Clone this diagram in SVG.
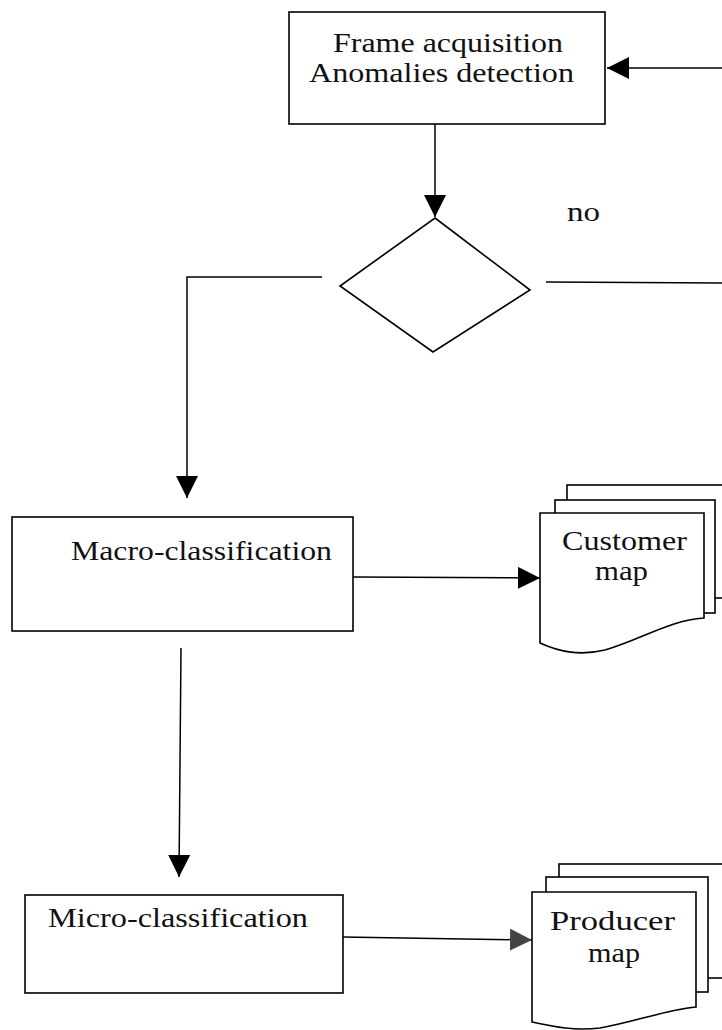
<svg xmlns="http://www.w3.org/2000/svg" width="722" height="1030" viewBox="0 0 722 1030">
<defs>
<style>
.box{fill:#fff;stroke:#000;stroke-width:1.6}
.doc{fill:#fff;stroke:#000;stroke-width:1.6;stroke-linejoin:miter}
.ln{fill:none;stroke:#000;stroke-width:1.5}
.t{font-family:"Liberation Serif","Times New Roman",serif;font-size:28px;fill:#111}
</style>
<marker id="ah" markerUnits="userSpaceOnUse" markerWidth="22" markerHeight="22" viewBox="0 0 20 20" refX="20" refY="10" orient="auto">
<path d="M0,0 L20,10 L0,20 Z" fill="#000"/>
</marker>
<marker id="ahg" markerUnits="userSpaceOnUse" markerWidth="22" markerHeight="22" viewBox="0 0 20 20" refX="20" refY="10" orient="auto">
<path d="M0,0 L20,10 L0,20 Z" fill="#444"/>
</marker>
</defs>
<rect width="722" height="1030" fill="#fff"/>

<g id="connectors">
<line class="ln" x1="722" y1="68" x2="607" y2="68" marker-end="url(#ah)"/>
<line class="ln" x1="435" y1="124" x2="435" y2="217" marker-end="url(#ah)"/>
<polyline class="ln" points="322,277 187,277 187,498" marker-end="url(#ah)"/>
<line class="ln" x1="546" y1="282" x2="722" y2="283"/>
<line class="ln" x1="353" y1="577" x2="540" y2="578" marker-end="url(#ah)"/>
<line class="ln" x1="181" y1="648" x2="179" y2="877" marker-end="url(#ah)"/>
<line class="ln" x1="343" y1="937" x2="532" y2="940" marker-end="url(#ahg)"/>
</g>

<g id="frame-acquisition">
<rect class="box" x="289" y="12" width="316" height="112"/>
<text class="t" x="448" y="52" text-anchor="middle" textLength="230" lengthAdjust="spacingAndGlyphs">Frame acquisition</text>
<text class="t" x="441.5" y="82" text-anchor="middle" textLength="265" lengthAdjust="spacingAndGlyphs">Anomalies detection</text>
</g>

<g id="decision">
<polygon class="box" points="435,218 530,290 433,352 340,286"/>
<text class="t" x="567" y="221" textLength="33" lengthAdjust="spacingAndGlyphs">no</text>
</g>

<g id="macro-classification">
<rect class="box" x="12" y="517" width="341" height="114"/>
<text class="t" x="71" y="560" textLength="261" lengthAdjust="spacingAndGlyphs">Macro-classification</text>
</g>

<g id="customer-map">
<rect class="doc" x="567" y="485" width="165" height="113"/>
<rect class="doc" x="555" y="500" width="160" height="113"/>
<path class="doc" d="M540,513 H704 V618 C670,620 640,640 605,650 C580,656 560,652 540,643 Z"/>
<text class="t" x="624.5" y="550" text-anchor="middle" textLength="125" lengthAdjust="spacingAndGlyphs">Customer</text>
<text class="t" x="621.5" y="580" text-anchor="middle" textLength="53" lengthAdjust="spacingAndGlyphs">map</text>
</g>

<g id="micro-classification">
<rect class="box" x="25" y="895" width="318" height="98"/>
<text class="t" x="48" y="927" textLength="260" lengthAdjust="spacingAndGlyphs">Micro-classification</text>
</g>

<g id="producer-map">
<rect class="doc" x="559" y="864" width="173" height="114"/>
<rect class="doc" x="546" y="877" width="162" height="115"/>
<path class="doc" d="M532,892 H696 V1007 C665,1010 635,1022 600,1028 C575,1031 555,1027 532,1022 Z"/>
<text class="t" x="612.5" y="930" text-anchor="middle" textLength="125" lengthAdjust="spacingAndGlyphs">Producer</text>
<text class="t" x="614" y="962" text-anchor="middle" textLength="52" lengthAdjust="spacingAndGlyphs">map</text>
</g>
</svg>
